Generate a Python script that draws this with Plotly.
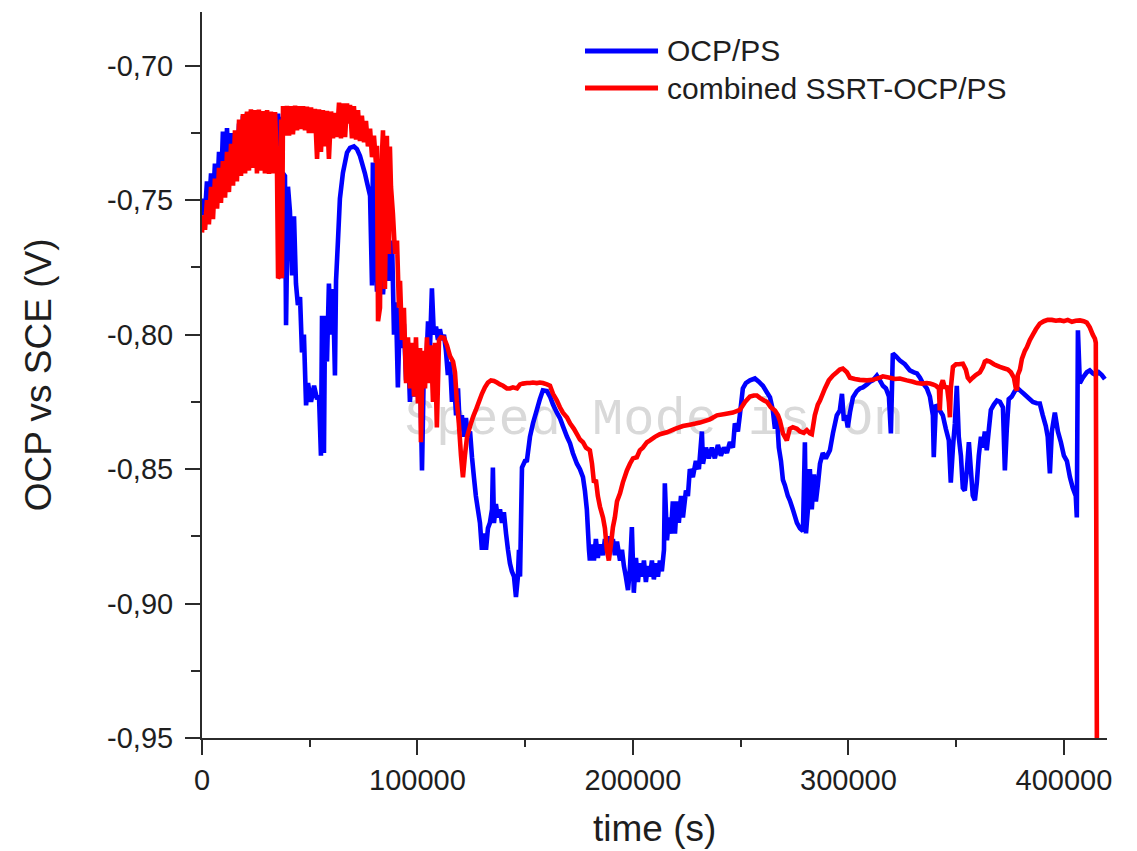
import plotly.graph_objects as go

# OCP/PS measurement: (time in s, potential vs SCE in V)
OCP_PS = [
    (0, -0.7557), (500, -0.7494), (1400, -0.7545), (2300, -0.7430), (3200, -0.7530), (4200, -0.7400), (5100, -0.7510), (6000, -0.7364), (7000, -0.7480), (7900, -0.7320),
    (8800, -0.7460), (9700, -0.7245), (10700, -0.7440), (11600, -0.7232), (12500, -0.7420), (13500, -0.7250), (14400, -0.7400), (15300, -0.7265), (16200, -0.7390), (17200, -0.7215),
    (18100, -0.7375), (19000, -0.7186), (20000, -0.7370), (20900, -0.7175), (21800, -0.7360), (22700, -0.7170), (23700, -0.7350), (24600, -0.7172), (25500, -0.7365), (26000, -0.7330),
    (26900, -0.7370), (27800, -0.7172), (28800, -0.7380), (29700, -0.7175), (30600, -0.7370), (31600, -0.7175), (32500, -0.7330), (33400, -0.7175), (34300, -0.7320), (35300, -0.7178),
    (36200, -0.7300), (36700, -0.7190), (37100, -0.7790), (37600, -0.7400), (38500, -0.7410), (39000, -0.7965), (39900, -0.7450), (40800, -0.7540), (41800, -0.7780), (42700, -0.7560),
    (43600, -0.7810), (44500, -0.7890), (45500, -0.7860), (46400, -0.8066), (47300, -0.8000), (48300, -0.8263), (49200, -0.8180), (50600, -0.8250), (52000, -0.8190), (53400, -0.8240),
    (54300, -0.8226), (55200, -0.8450), (55700, -0.7930), (56600, -0.8440), (57100, -0.7930), (58000, -0.8100), (58900, -0.7810), (59900, -0.8000), (60800, -0.7830), (61700, -0.8152),
    (62200, -0.7800), (63100, -0.7650), (64000, -0.7494), (65400, -0.7398), (67300, -0.7323), (68700, -0.7305), (70500, -0.7300), (71900, -0.7310), (73300, -0.7335), (74200, -0.7360),
    (75600, -0.7400), (76600, -0.7435), (78000, -0.7483), (78900, -0.7817), (79300, -0.7360), (80300, -0.7600), (81200, -0.7840), (82600, -0.7700), (84000, -0.7850), (85400, -0.7680),
    (86800, -0.7800), (88200, -0.7650), (89100, -0.8000), (90000, -0.7880), (90900, -0.8196), (91900, -0.7900), (92800, -0.8050), (93700, -0.7960), (94700, -0.8170), (95600, -0.8030),
    (96500, -0.8250), (97400, -0.8130), (98400, -0.8230), (99300, -0.8160), (100200, -0.8230), (101200, -0.8120), (102100, -0.8505), (103000, -0.8100), (103900, -0.8150), (104900, -0.7950),
    (105800, -0.8050), (106700, -0.7828), (107600, -0.8000), (108600, -0.7970), (109500, -0.8020), (110400, -0.7980), (111400, -0.8020), (112300, -0.8000), (113200, -0.8060), (114100, -0.8150),
    (115100, -0.8100), (116000, -0.8250), (116900, -0.8160), (117900, -0.8300), (118800, -0.8200), (119700, -0.8356), (120600, -0.8300), (121600, -0.8380), (122500, -0.8310), (123400, -0.8380),
    (124400, -0.8360), (125300, -0.8456), (126200, -0.8530), (127100, -0.8600), (128100, -0.8653), (129000, -0.8700), (129900, -0.8800), (130800, -0.8740), (131800, -0.8800), (132700, -0.8720),
    (133600, -0.8700), (134600, -0.8650), (135000, -0.8494), (135500, -0.8700), (136400, -0.8630), (137300, -0.8680), (138300, -0.8650), (139200, -0.8700), (140100, -0.8660), (141100, -0.8740),
    (142000, -0.8800), (142900, -0.8850), (143800, -0.8880), (144800, -0.8900), (145700, -0.8976), (146600, -0.8900), (147100, -0.8800), (147600, -0.8900), (148500, -0.8494), (149900, -0.8470),
    (150800, -0.8468), (152200, -0.8380), (153600, -0.8330), (155400, -0.8280), (156800, -0.8240), (158200, -0.8207), (160100, -0.8210), (161500, -0.8230), (162900, -0.8260), (164700, -0.8290),
    (166100, -0.8310), (167500, -0.8340), (169400, -0.8380), (170800, -0.8404), (172100, -0.8440), (174000, -0.8480), (175400, -0.8500), (176800, -0.8530), (177700, -0.8580), (178600, -0.8650),
    (179600, -0.8800), (180000, -0.8840), (181000, -0.8780), (181900, -0.8840), (182800, -0.8760), (183700, -0.8830), (184700, -0.8780), (186100, -0.8820), (187000, -0.8760), (187900, -0.8800),
    (188800, -0.8750), (189800, -0.8800), (190700, -0.8760), (191600, -0.8820), (192600, -0.8770), (194000, -0.8840), (194900, -0.8800), (195800, -0.8860), (196700, -0.8900), (197700, -0.8950),
    (198600, -0.8870), (199500, -0.8716), (200400, -0.8960), (201400, -0.8830), (202300, -0.8920), (203200, -0.8850), (204200, -0.8900), (205100, -0.8840), (206000, -0.8920), (206900, -0.8860),
    (207900, -0.8900), (208800, -0.8840), (209700, -0.8910), (210700, -0.8850), (211600, -0.8900), (212500, -0.8840), (213400, -0.8880), (214400, -0.8800), (214800, -0.8553), (215800, -0.8765),
    (216700, -0.8680), (217600, -0.8740), (218500, -0.8620), (219500, -0.8740), (220400, -0.8620), (221300, -0.8700), (222300, -0.8600), (223200, -0.8680), (224600, -0.8580), (225500, -0.8600),
    (226400, -0.8500), (227800, -0.8530), (229200, -0.8470), (230600, -0.8500), (232000, -0.8360), (232500, -0.8480), (233900, -0.8420), (235200, -0.8460), (236600, -0.8420), (238000, -0.8460),
    (239400, -0.8410), (240800, -0.8450), (242200, -0.8420), (243600, -0.8440), (245000, -0.8400), (246400, -0.8420), (247300, -0.8330), (248700, -0.8360), (249600, -0.8300), (251000, -0.8200),
    (252400, -0.8180), (254300, -0.8170), (256600, -0.8163), (258400, -0.8175), (260300, -0.8190), (262200, -0.8215), (263600, -0.8233), (264900, -0.8280), (265900, -0.8350), (266800, -0.8300),
    (267700, -0.8420), (268700, -0.8470), (269600, -0.8540), (270500, -0.8560), (271900, -0.8600), (272800, -0.8616), (274200, -0.8650), (276100, -0.8700), (277500, -0.8720), (278900, -0.8730),
    (279800, -0.8400), (280300, -0.8739), (281200, -0.8650), (282100, -0.8500), (283000, -0.8650), (284000, -0.8520), (284900, -0.8620), (285800, -0.8560), (286800, -0.8480), (288100, -0.8440),
    (289500, -0.8460), (291400, -0.8430), (292800, -0.8367), (294600, -0.8300), (296000, -0.8282), (297000, -0.8220), (297900, -0.8320), (298800, -0.8300), (299700, -0.8345), (300700, -0.8290),
    (302100, -0.8233), (303900, -0.8210), (305300, -0.8200), (306700, -0.8196), (308600, -0.8185), (310000, -0.8175), (311300, -0.8170), (313200, -0.8152), (314600, -0.8170), (316000, -0.8190),
    (317400, -0.8200), (318800, -0.8230), (319700, -0.8367), (320600, -0.8070), (322000, -0.8080), (323900, -0.8096), (326200, -0.8110), (328500, -0.8133), (330400, -0.8140), (331800, -0.8144),
    (333200, -0.8160), (334500, -0.8180), (336400, -0.8200), (337800, -0.8230), (339200, -0.8300), (339600, -0.8456), (340600, -0.8260), (342400, -0.8282), (343800, -0.8300), (345200, -0.8350),
    (346600, -0.8393), (347500, -0.8550), (348500, -0.8420), (349400, -0.8330), (350300, -0.8190), (351200, -0.8380), (352200, -0.8450), (353100, -0.8570), (354000, -0.8580), (355000, -0.8500),
    (355900, -0.8400), (356800, -0.8500), (357700, -0.8598), (358700, -0.8616), (359600, -0.8550), (360500, -0.8450), (361500, -0.8380), (362400, -0.8420), (363300, -0.8360), (364200, -0.8430),
    (365200, -0.8350), (366100, -0.8280), (367500, -0.8260), (368900, -0.8245), (370300, -0.8250), (371700, -0.8270), (372600, -0.8505), (373500, -0.8350), (374400, -0.8240), (375800, -0.8230),
    (377200, -0.8210), (378600, -0.8200), (380000, -0.8210), (381400, -0.8220), (382800, -0.8230), (384200, -0.8240), (385600, -0.8250), (387400, -0.8255), (388800, -0.8256), (390200, -0.8300),
    (391600, -0.8340), (392500, -0.8380), (393500, -0.8516), (394400, -0.8360), (395800, -0.8290), (397200, -0.8360), (398600, -0.8400), (400000, -0.8450), (401400, -0.8470), (402800, -0.8530),
    (404100, -0.8570), (405500, -0.8600), (406000, -0.8680), (406500, -0.7984), (407400, -0.8180), (408800, -0.8160), (410600, -0.8140), (412000, -0.8133), (413400, -0.8144), (414800, -0.8150),
    (416200, -0.8140), (417600, -0.8150), (419000, -0.8165),
]

# combined SSRT-OCP/PS measurement: (time in s, potential vs SCE in V)
SSRT_OCP_PS = [
    (0, -0.7620), (500, -0.7557), (1400, -0.7610), (2300, -0.7500), (3200, -0.7590), (4200, -0.7450), (5100, -0.7570), (6000, -0.7420), (7000, -0.7531), (7900, -0.7380),
    (8800, -0.7510), (9700, -0.7355), (10700, -0.7490), (11600, -0.7320), (12500, -0.7470), (13500, -0.7290), (14400, -0.7446), (15300, -0.7240), (16200, -0.7430), (17200, -0.7200),
    (18100, -0.7410), (19000, -0.7180), (20000, -0.7400), (20900, -0.7170), (21800, -0.7390), (22700, -0.7162), (23700, -0.7380), (24600, -0.7165), (25500, -0.7400), (26400, -0.7163),
    (27400, -0.7390), (28300, -0.7168), (29200, -0.7400), (30200, -0.7165), (31100, -0.7402), (32000, -0.7170), (32900, -0.7400), (33900, -0.7172), (34800, -0.7380), (35300, -0.7790),
    (36200, -0.7780), (36700, -0.7200), (37100, -0.7790), (37600, -0.7150), (38500, -0.7260), (39400, -0.7149), (40400, -0.7260), (41300, -0.7150), (42200, -0.7255), (43200, -0.7148),
    (44100, -0.7240), (45000, -0.7150), (45900, -0.7235), (46900, -0.7150), (47800, -0.7240), (48700, -0.7152), (49600, -0.7250), (50600, -0.7155), (51500, -0.7250), (52400, -0.7160),
    (53400, -0.7346), (54300, -0.7162), (55200, -0.7320), (56100, -0.7165), (57100, -0.7300), (58000, -0.7168), (58900, -0.7346), (59900, -0.7170), (60800, -0.7270), (61700, -0.7175),
    (62600, -0.7265), (63600, -0.7137), (64500, -0.7270), (65400, -0.7140), (66400, -0.7265), (67300, -0.7140), (67700, -0.7215), (68700, -0.7145), (69600, -0.7270), (70500, -0.7150),
    (71500, -0.7275), (72400, -0.7165), (73300, -0.7280), (74200, -0.7186), (75200, -0.7285), (76100, -0.7205), (77000, -0.7300), (78000, -0.7234), (78900, -0.7340), (79800, -0.7260),
    (80700, -0.7360), (81200, -0.7297), (81700, -0.7950), (82600, -0.7900), (83100, -0.7400), (84000, -0.7240), (84900, -0.7830), (85800, -0.7260), (86800, -0.7700), (87200, -0.7300),
    (87700, -0.7450), (88600, -0.7550), (89600, -0.7700), (90500, -0.7650), (91400, -0.7900), (91900, -0.7800), (92800, -0.8020), (93700, -0.7900), (94700, -0.8180), (95600, -0.8010),
    (96500, -0.8200), (97400, -0.8030), (98400, -0.8230), (99300, -0.8010), (100200, -0.8256), (101200, -0.8050), (101600, -0.8400), (102500, -0.8060), (103500, -0.8200), (104400, -0.8010),
    (105300, -0.8180), (106300, -0.8040), (107200, -0.8250), (108100, -0.8030), (109000, -0.8345), (110000, -0.8020), (110900, -0.8010), (112300, -0.8012), (113700, -0.8040), (115100, -0.8080),
    (116500, -0.8100), (117400, -0.8140), (118300, -0.8250), (119200, -0.8330), (120200, -0.8450), (121100, -0.8530), (122000, -0.8450), (123000, -0.8380), (124400, -0.8340), (125700, -0.8308),
    (127100, -0.8280), (128500, -0.8250), (129900, -0.8220), (131300, -0.8196), (132700, -0.8178), (134100, -0.8170), (135500, -0.8172), (136900, -0.8178), (138300, -0.8185), (139700, -0.8190),
    (141500, -0.8200), (142900, -0.8200), (144300, -0.8196), (146200, -0.8200), (147600, -0.8185), (148900, -0.8182), (150800, -0.8180), (152200, -0.8180), (153600, -0.8178), (155400, -0.8180),
    (156800, -0.8178), (158200, -0.8180), (160100, -0.8185), (161500, -0.8190), (162900, -0.8220), (164700, -0.8245), (166100, -0.8270), (167500, -0.8290), (169400, -0.8308), (170800, -0.8330),
    (172600, -0.8350), (174000, -0.8370), (175400, -0.8390), (176800, -0.8400), (178200, -0.8420), (180000, -0.8430), (181000, -0.8480), (181900, -0.8550), (182800, -0.8540), (183700, -0.8600),
    (184700, -0.8640), (186100, -0.8680), (187000, -0.8720), (187900, -0.8800), (188800, -0.8840), (189800, -0.8780), (190700, -0.8716), (191600, -0.8680), (192600, -0.8620), (194000, -0.8590),
    (195300, -0.8550), (197200, -0.8505), (198600, -0.8480), (200000, -0.8460), (201800, -0.8456), (203200, -0.8430), (204600, -0.8420), (206500, -0.8400), (207900, -0.8393), (210200, -0.8380),
    (212500, -0.8370), (215800, -0.8363), (219500, -0.8350), (223200, -0.8340), (226400, -0.8335), (231100, -0.8327), (235700, -0.8315), (239000, -0.8300), (242700, -0.8295), (246400, -0.8290),
    (249600, -0.8280), (252000, -0.8250), (254300, -0.8230), (256100, -0.8226), (257500, -0.8226), (258900, -0.8235), (260800, -0.8245), (262200, -0.8250), (264000, -0.8270), (265900, -0.8282),
    (267300, -0.8300), (268200, -0.8320), (269600, -0.8367), (270500, -0.8380), (271400, -0.8393), (272800, -0.8350), (274200, -0.8344), (276100, -0.8350), (277500, -0.8360), (279300, -0.8365),
    (280700, -0.8355), (282100, -0.8367), (283000, -0.8370), (284400, -0.8300), (285800, -0.8260), (286800, -0.8245), (289100, -0.8200), (290900, -0.8170), (292800, -0.8152), (294600, -0.8140),
    (296000, -0.8130), (297400, -0.8126), (299300, -0.8140), (300700, -0.8160), (303000, -0.8165), (305300, -0.8168), (308600, -0.8170), (311300, -0.8168), (314600, -0.8160), (316000, -0.8155),
    (319200, -0.8160), (321600, -0.8165), (323900, -0.8163), (327100, -0.8170), (329900, -0.8175), (331800, -0.8180), (334100, -0.8182), (336400, -0.8180), (337800, -0.8182), (339200, -0.8185),
    (340600, -0.8190), (342000, -0.8200), (342400, -0.8282), (342900, -0.8190), (343800, -0.8170), (344800, -0.8200), (345700, -0.8190), (346600, -0.8250), (347100, -0.8307), (347500, -0.8200),
    (348500, -0.8120), (349900, -0.8110), (351200, -0.8110), (353100, -0.8108), (354500, -0.8130), (355400, -0.8160), (356400, -0.8170), (357700, -0.8160), (359100, -0.8150), (361000, -0.8140),
    (362400, -0.8120), (363300, -0.8100), (364200, -0.8096), (365600, -0.8100), (367500, -0.8110), (368900, -0.8115), (370300, -0.8120), (372100, -0.8125), (374000, -0.8130), (375400, -0.8140),
    (376800, -0.8160), (377700, -0.8200), (378200, -0.8207), (378600, -0.8150), (379600, -0.8130), (380500, -0.8090), (381900, -0.8060), (382800, -0.8047), (384200, -0.8020), (385600, -0.8000),
    (387000, -0.7980), (388800, -0.7959), (390700, -0.7950), (392500, -0.7945), (394400, -0.7945), (396300, -0.7948), (398100, -0.7946), (400000, -0.7950), (401800, -0.7945), (403700, -0.7952),
    (405500, -0.7948), (407400, -0.7947), (409200, -0.7950), (410600, -0.7955), (412000, -0.7973), (413400, -0.8000), (414400, -0.8015), (414800, -0.8030), (415300, -0.9500),
]

SERIES_NAMES = ["OCP/PS", "combined SSRT-OCP/PS"]
SERIES_COLORS = ["#0000FF", "#FF0000"]

Y_TICKS = [-0.95, -0.90, -0.85, -0.80, -0.75, -0.70]
Y_TICK_LABELS = ["-0,95", "-0,90", "-0,85", "-0,80", "-0,75", "-0,70"]
Y_MINOR = [-0.925, -0.875, -0.825, -0.775, -0.725]
X_TICKS = [0, 100000, 200000, 300000, 400000]
X_TICK_LABELS = ["0", "100000", "200000", "300000", "400000"]
X_MINOR = [50000, 150000, 250000, 350000]

FONT = "Liberation Sans, Arial, sans-serif"
INK = "#1e1e1e"
AXIS = "#2b2b2b"

fig = go.Figure()
for name, pts, color in zip(SERIES_NAMES, [OCP_PS, SSRT_OCP_PS], SERIES_COLORS):
    t, v = zip(*pts)
    fig.add_trace(go.Scatter(x=list(t), y=list(v), mode="lines", name=name,
                             line=dict(color=color, width=4.6, simplify=False), showlegend=False))

axis_common = dict(showline=True, linecolor=AXIS, linewidth=2, showgrid=False, zeroline=False,
                   ticks="outside", tickwidth=2, tickcolor=AXIS, mirror=False,
                   tickfont=dict(family=FONT, size=29, color=INK))

fig.update_xaxes(range=[0, 420000], tickmode="array", tickvals=X_TICKS, ticktext=X_TICK_LABELS,
                 ticklen=15, ticklabelstandoff=0,
                 minor=dict(tickmode="array", tickvals=X_MINOR, ticks="outside", ticklen=7,
                            tickwidth=2, tickcolor=AXIS),
                 **axis_common)
fig.update_yaxes(range=[-0.95, -0.68], tickmode="array", tickvals=Y_TICKS, ticktext=Y_TICK_LABELS,
                 ticklen=15, ticklabelstandoff=6,
                 minor=dict(tickmode="array", tickvals=Y_MINOR, ticks="outside", ticklen=9,
                            tickwidth=2, tickcolor=AXIS),
                 **axis_common)

# faint software watermark behind the curves
fig.add_shape(type="rect", xref="paper", yref="paper", x0=0.22, x1=0.78, y0=0.42, y1=0.48,
              line=dict(width=0), fillcolor="rgba(0,0,0,0)", layer="below",
              label=dict(text="Speed Mode is On", textposition="middle center",
                         font=dict(family="Liberation Mono, Courier New, monospace", size=52,
                                   color="#d9d9d9")))

# legend drawn as line samples with labels
legend_rows = [0.9463, 0.8953]
for name, color, yrow in zip(SERIES_NAMES, SERIES_COLORS, legend_rows):
    fig.add_shape(type="line", xref="paper", yref="paper", x0=0.4232, x1=0.5039, y0=yrow, y1=yrow,
                  line=dict(color=color, width=5))
    fig.add_annotation(xref="paper", yref="paper", x=0.5115, y=yrow, text=name, showarrow=False,
                       xanchor="left", yanchor="middle",
                       font=dict(family=FONT, size=30, color=INK))

# axis titles
fig.add_annotation(xref="paper", yref="paper", x=0.5, y=-0.124, text="time (s)", showarrow=False,
                   xanchor="center", yanchor="middle", font=dict(family=FONT, size=37, color=INK))
fig.add_annotation(xref="paper", yref="paper", x=-0.181, y=0.5, text="OCP vs SCE (V)", showarrow=False,
                   textangle=-90, xanchor="center", yanchor="middle",
                   font=dict(family=FONT, size=37, color=INK))

fig.update_layout(width=1137, height=851, margin=dict(l=202, r=30, t=12, b=113),
                  plot_bgcolor="white", paper_bgcolor="white", showlegend=False,
                  font=dict(family=FONT, color=INK))

fig.write_html("out.html")
